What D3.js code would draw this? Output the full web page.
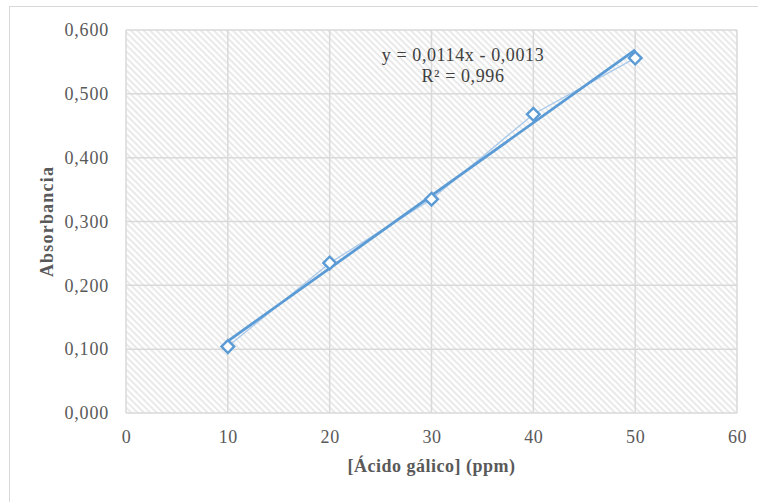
<!DOCTYPE html>
<html><head><meta charset="utf-8">
<script src="https://cdn.jsdelivr.net/npm/d3@7"></script>
<style>body{margin:0;background:#fff}svg{display:block}</style>
</head><body>
<script>
const xValues = [10, 20, 30, 40, 50];
const yValues = [0.104, 0.235, 0.335, 0.468, 0.556];
const xTicks = [0, 10, 20, 30, 40, 50, 60];
const yTicks = [0, 0.1, 0.2, 0.3, 0.4, 0.5, 0.6];
const slope = 0.0114, intercept = -0.0013;
const eqLines = ["y = 0,0114x - 0,0013", "R² = 0,996"];
const xTitle = "[Ácido gálico] (ppm)";
const yTitle = "Absorbancia";

const W = 758, H = 502;
const m = {left:126, right:737, top:30, bottom:413};
const svg = d3.select("body").append("svg").attr("width", W).attr("height", H);
const defs = svg.append("defs");
const pat = defs.append("pattern").attr("id","hatch").attr("patternUnits","userSpaceOnUse")
  .attr("width",4.5).attr("height",4.5).attr("patternTransform","rotate(45)");
pat.append("rect").attr("width",4.5).attr("height",4.5).attr("fill","#fff");
pat.append("rect").attr("x",0).attr("y",0).attr("width",4.5).attr("height",2).attr("fill","#e9e9e9");

svg.append("rect").attr("x",9.5).attr("y",6.5).attr("width",W).attr("height",H).attr("fill","#fff").attr("stroke","#d9d9d9");

const x = d3.scaleLinear().domain([0,60]).range([m.left,m.right]);
const y = d3.scaleLinear().domain([0,0.6]).range([m.bottom,m.top]);

svg.append("rect").attr("x",m.left).attr("y",m.top).attr("width",m.right-m.left).attr("height",m.bottom-m.top).attr("fill","url(#hatch)");

const grid = svg.append("g");
grid.selectAll(".gx").data(xTicks).join("line").attr("x1",d=>x(d)).attr("x2",d=>x(d)).attr("y1",m.top).attr("y2",m.bottom).attr("stroke","#d9d9d9").attr("stroke-width",1.5);
grid.selectAll(".gy").data(yTicks).join("line").attr("y1",d=>y(d)).attr("y2",d=>y(d)).attr("x1",m.left).attr("x2",m.right).attr("stroke","#d9d9d9").attr("stroke-width",1.5);

const fmtY = d => d3.format(".3f")(d).replace(".", ",");
const font = "'Liberation Serif', 'Times New Roman', serif";
const xAxis = d3.axisBottom(x).tickValues(xTicks).tickSize(0).tickPadding(17);
const gx = svg.append("g").attr("transform",`translate(0,${m.bottom})`).call(xAxis);
gx.select(".domain").remove();
gx.selectAll("text").attr("font-family",font).attr("font-size",18).attr("letter-spacing","0.6px").attr("fill","#595959");
const yAxis = d3.axisLeft(y).tickValues(yTicks).tickFormat(fmtY).tickSize(0).tickPadding(17);
const gy = svg.append("g").attr("transform",`translate(${m.left},0)`).call(yAxis);
gy.select(".domain").remove();
gy.selectAll("text").attr("font-family",font).attr("font-size",18).attr("letter-spacing","0.8px").attr("fill","#595959");

const pts = xValues.map((v,i)=>[v,yValues[i]]);
svg.append("path").datum(pts).attr("d", d3.line().x(d=>x(d[0])).y(d=>y(d[1])))
  .attr("fill","none").attr("stroke","#a9c8ea").attr("stroke-width",1.3);
const xs = d3.extent(xValues);
svg.append("line").attr("x1",x(xs[0])).attr("y1",y(slope*xs[0]+intercept)).attr("x2",x(xs[1])).attr("y2",y(slope*xs[1]+intercept))
  .attr("stroke","#5b9bd5").attr("stroke-width",2.8);
svg.selectAll(".pt").data(pts).join("path")
  .attr("d", d3.symbol(d3.symbolSquare, 80))
  .attr("transform", d=>`translate(${x(d[0])},${y(d[1])}) rotate(45)`)
  .attr("fill","#fff").attr("stroke","#5b9bd5").attr("stroke-width",2.4);

svg.selectAll(".eq").data(eqLines).join("text")
  .attr("x",463).attr("y",(d,i)=>61+i*21).attr("text-anchor","middle")
  .attr("font-family",font).attr("font-size",18).attr("letter-spacing","0.6px").attr("fill","#404040").text(d=>d);

svg.append("text").attr("x",(m.left+m.right)/2).attr("y",472).attr("text-anchor","middle")
  .attr("font-family",font).attr("font-size",18).attr("letter-spacing","0.5px").attr("font-weight","bold").attr("fill","#595959").text(xTitle);
svg.append("text").attr("transform",`translate(53,${(m.top+m.bottom)/2}) rotate(-90)`).attr("text-anchor","middle")
  .attr("font-family",font).attr("font-size",18).attr("letter-spacing","1.2px").attr("font-weight","bold").attr("fill","#595959").text(yTitle);
</script>
</body></html>
